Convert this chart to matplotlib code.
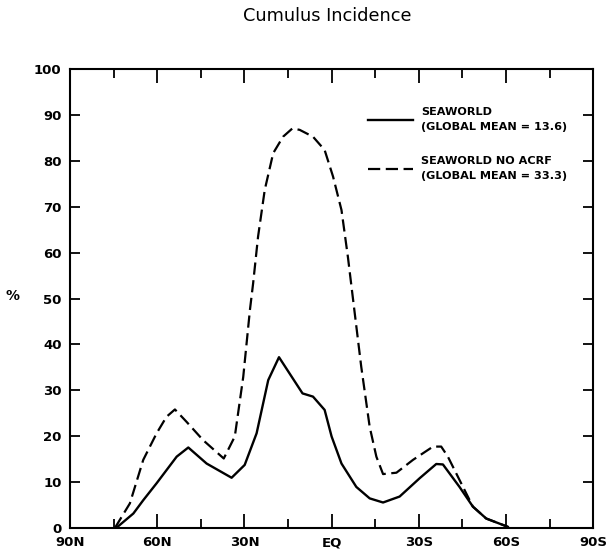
import matplotlib
matplotlib.use("Agg")
import matplotlib.pyplot as plt
from matplotlib.ticker import MultipleLocator

plt.rcParams['font.family'] = ['DejaVu Sans']

# latitude (deg, + = N) and cumulus incidence (%)
lat_sw = [74, 68.2, 64.8, 60.2, 53.3, 49.3, 43.0, 34.4, 29.9, 25.8, 21.8, 18.1,
          10.0, 6.4, 2.4, 0.0, -3.4, -8.5, -13.1, -17.7, -23.4, -30.3, -36.0,
          -38.3, -44.0, -48.6, -53.2, -60.6]
val_sw = [0, 3.1, 6.0, 9.7, 15.5, 17.5, 14.0, 10.9, 13.7, 20.6, 32.2, 37.2,
          29.3, 28.6, 25.7, 19.9, 14.0, 8.9, 6.4, 5.5, 6.8, 10.8, 13.9,
          13.8, 8.9, 4.6, 2.0, 0.2]

lat_noacrf = [74.5, 69.4, 64.8, 60.2, 56.8, 53.9, 49.9, 44.2, 37.1, 33.3, 30.4,
              28.1, 27.0, 25.3, 23.0, 20.1, 16.7, 13.5, 11.0, 6.4, 2.4, -0.5,
              -3.4, -5.6, -7.4, -10.2, -13.1, -15.4, -17.7, -22.3, -28.0, -34.9,
              -37.7, -40.0, -45.2, -48.6, -53.2, -60.6]
val_noacrf = [0, 5.3, 14.8, 20.6, 24.2, 25.8, 23.1, 19.1, 15.1, 19.9, 32.9,
              47.5, 53.3, 63.5, 73.7, 81.7, 85.3, 87.1, 86.8, 85.3, 82.4, 76.6,
              69.3, 59.1, 49.7, 35.1, 22.0, 15.5, 11.7, 12.0, 14.8, 17.7,
              17.7, 15.5, 8.9, 4.6, 2.0, 0.2]

xticks = [90, 60, 30, 0, -30, -60, -90]
xlabels = ['90N', '60N', '30N', 'EQ', '30S', '60S', '90S']

fig = plt.figure(figsize=(6.07, 5.52), dpi=100)
ax = fig.add_axes([0.1153, 0.044, 0.862, 0.8304])

ax.plot(lat_sw, val_sw, color='black', lw=1.7,
        label='SEAWORLD\n(GLOBAL MEAN = 13.6)')
ax.plot(lat_noacrf, val_noacrf, color='black', lw=1.6, dashes=(5.5, 2.5),
        label='SEAWORLD NO ACRF\n(GLOBAL MEAN = 33.3)')

ax.set_xlim(90, -90)
ax.set_ylim(0, 100)
ax.set_xticks(xticks)
ax.set_xticklabels(xlabels)
ax.xaxis.set_minor_locator(MultipleLocator(15))
ax.yaxis.set_major_locator(MultipleLocator(10))

ax.tick_params(axis='x', which='major', direction='in', top=True, bottom=True,
               length=10, width=1.3, pad=13.5, labelsize=9.5)
ax.tick_params(axis='x', which='minor', direction='in', top=True, bottom=True,
               length=6.5, width=1.3)
ax.tick_params(axis='y', which='major', direction='in', left=True, right=True,
               length=7.5, width=1.3, pad=6, labelsize=9.5)
for lab in ax.get_xticklabels():
    lab.set_fontweight('bold')
    lab.set_va('baseline')
for lab in ax.get_yticklabels():
    lab.set_fontweight('bold')
for s in ax.spines.values():
    s.set_linewidth(1.5)

ax.set_ylabel('%', rotation=0, fontsize=10, fontweight='bold', ha='center', va='center')
ax.yaxis.set_label_coords(-0.109, 0.505)

leg = ax.legend(loc='upper left', bbox_to_anchor=(0.57, 0.917), frameon=False,
                handlelength=4.0, handletextpad=0.7, labelspacing=2.15,
                borderpad=0, borderaxespad=0,
                prop={'size': 8.1, 'weight': 'bold'})
for t in leg.get_texts():
    t.set_linespacing(1.6)

fig.text(0.539, 0.971, 'Cumulus Incidence', ha='center', va='center', fontsize=12.8)

fig.savefig('out.png', dpi=100)
